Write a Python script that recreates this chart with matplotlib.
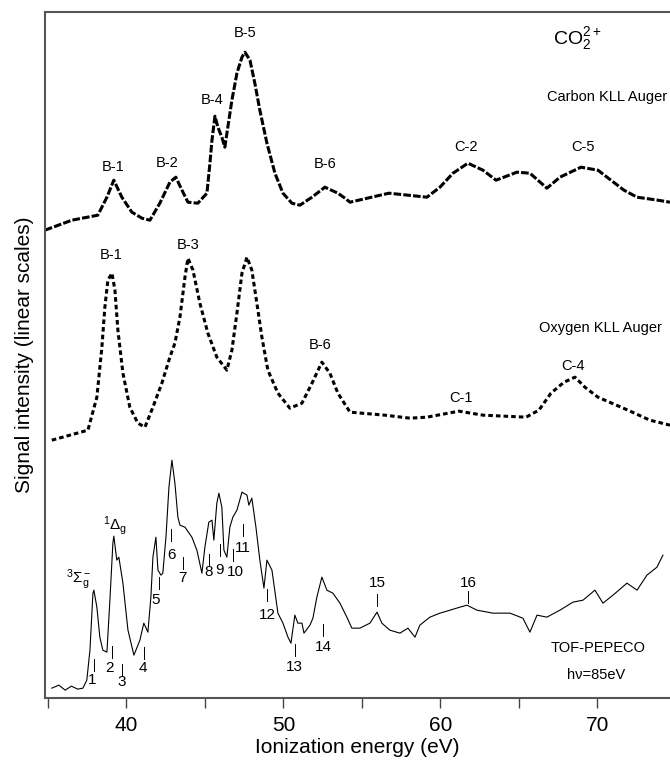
import numpy as np
import matplotlib
matplotlib.use("Agg")
import matplotlib.pyplot as plt

plt.rcParams['font.family'] = ['Liberation Sans', 'DejaVu Sans']
plt.rcParams['mathtext.fontset'] = 'custom'
plt.rcParams['mathtext.rm'] = 'Liberation Sans'
plt.rcParams['mathtext.it'] = 'Liberation Sans'

# Carbon KLL Auger (top trace)
carbon_e = [34.81, 36.53, 38.18, 38.76, 39.20, 39.71, 40.35, 40.99, 41.50, 42.13, 42.77,
            43.15, 43.54, 43.92, 44.55, 45.13, 45.32, 45.45, 45.64, 45.83, 46.08, 46.27,
            46.46, 46.72, 47.04, 47.36, 47.55, 47.87, 48.18, 48.50, 48.95, 49.46, 49.97,
            50.54, 51.05, 51.82, 52.64, 53.47, 53.92, 54.24, 56.72, 59.14, 59.97, 60.80,
            61.75, 62.71, 63.54, 64.87, 65.70, 66.78, 67.61, 68.95, 70.03, 70.61, 71.69,
            72.52, 73.85, 74.62]
carbon_i = [468, 478, 483, 501, 518, 501, 486, 480, 478, 495, 516,
            521, 508, 496, 495, 505, 535, 558, 582, 571, 561, 551,
            571, 598, 625, 641, 646, 638, 615, 588, 555, 525, 505,
            495, 493, 501, 511, 505, 500, 496, 505, 501, 511, 525,
            535, 528, 518, 526, 525, 510, 521, 531, 528, 521, 508,
            501, 498, 496]

# Oxygen KLL Auger (middle trace)
oxygen_e = [35.25, 37.55, 38.12, 38.44, 38.63, 38.82, 39.08, 39.27, 39.46, 39.78, 40.22,
            40.73, 41.18, 41.69, 42.26, 42.77, 43.09, 43.41, 43.73, 43.92, 44.24, 44.68,
            45.19, 45.76, 46.40, 46.72, 47.04, 47.36, 47.68, 47.99, 48.31, 48.63, 49.01,
            49.65, 50.41, 51.18, 51.82, 52.45, 52.96, 53.47, 54.24, 56.46, 58.06, 59.14,
            61.18, 62.71, 65.45, 66.27, 67.04, 67.87, 68.57, 69.20, 70.03, 71.94, 73.34,
            74.62]
oxygen_i = [258, 268, 301, 351, 391, 418, 425, 408, 368, 325, 291,
            275, 271, 291, 315, 341, 355, 381, 421, 440, 428, 395,
            365, 341, 328, 348, 385, 425, 441, 428, 395, 361, 328,
            305, 290, 295, 315, 336, 325, 305, 286, 283, 280, 281,
            287, 283, 281, 288, 305, 316, 321, 311, 301, 288, 278,
            273]

# TOF-PEPECO (bottom trace)
pepeco_e = [35.25, 35.7, 36.1, 36.5, 36.9, 37.23, 37.48, 37.68, 37.87, 37.93, 38.12, 38.31,
            38.50, 38.76, 38.95, 39.14, 39.20, 39.39, 39.52, 39.78, 40.10, 40.48, 40.86,
            41.11, 41.37, 41.56, 41.69, 41.88, 42.01, 42.20, 42.32, 42.52, 42.71, 42.90,
            43.09, 43.28, 43.41, 43.73, 44.17, 44.49, 44.81, 45.00, 45.25, 45.45, 45.57,
            45.76, 45.89, 46.08, 46.21, 46.40, 46.59, 46.78, 47.04, 47.36, 47.68, 47.80,
            47.99, 48.25, 48.50, 48.76, 48.95, 49.27, 49.65, 49.97, 50.29, 50.48, 50.73,
            50.92, 51.18, 51.31, 51.69, 51.88, 52.13, 52.45, 52.77, 53.15, 53.60, 54.04,
            54.36, 54.87, 55.51, 55.96, 56.27, 56.78, 57.42, 57.93, 58.38, 58.69, 59.33,
            59.97, 60.61, 61.24, 61.69, 62.32, 63.34, 64.43, 65.25, 65.70, 66.15, 66.78,
            67.61, 68.44, 69.08, 69.84, 70.35, 70.99, 71.88, 72.52, 73.15, 73.79, 74.17]
pepeco_i = [10, 13, 8, 12, 9, 10, 18, 48, 105, 108, 91, 61,
            48, 46, 98, 155, 162, 138, 141, 115, 68, 43, 58,
            75, 66, 101, 141, 161, 128, 123, 125, 161, 211, 238,
            215, 181, 173, 171, 161, 148, 125, 151, 176, 178, 158,
            195, 205, 191, 148, 141, 171, 181, 188, 206, 203, 193,
            200, 171, 138, 110, 138, 128, 85, 75, 61, 55, 83,
            75, 75, 65, 73, 80, 101, 121, 108, 105, 95, 81,
            70, 70, 75, 86, 75, 68, 65, 70, 61, 73, 81,
            85, 88, 91, 93, 88, 85, 85, 80, 66, 83, 81,
            88, 96, 98, 108, 95, 103, 115, 108, 123, 131, 143]

carbon_labels = ["B-1", "B-2", "B-4", "B-5", "B-6", "C-2", "C-5"]
carbon_lab_e = [39.14, 42.58, 45.45, 47.55, 52.64, 61.62, 69.08]
carbon_lab_i = [531, 535, 598, 665, 534, 551, 551]

oxygen_labels = ["B-1", "B-3", "B-6", "C-1", "C-4"]
oxygen_lab_e = [39.01, 43.92, 52.32, 61.31, 68.44]
oxygen_lab_i = [443, 453, 353, 300, 332]

state_labels = [str(n) for n in range(1, 17)]
state_tick_e = [37.93, 39.08, 39.71, 41.11, 42.07, 42.83, 43.60, 45.25, 45.96, 46.78,
                47.42, 48.95, 50.73, 52.52, 55.96, 61.75]
state_tick_i = [33, 46, 28, 45, 115, 163, 135, 138, 148, 143, 168, 103, 48, 68, 98, 101]
state_lab_e = [37.80, 38.95, 39.71, 41.05, 41.88, 42.90, 43.60, 45.25, 45.96, 46.97,
               47.42, 48.95, 50.67, 52.52, 55.96, 61.75]
state_lab_i = [18, 30, 16, 30, 98, 143, 120, 126, 128, 126, 150, 83, 31, 51, 115, 115]

fig = plt.figure(figsize=(6.7, 7.63), dpi=100)
ax = fig.add_axes([0.067, 0.085, 0.933, 0.899])

ax.plot(carbon_e, carbon_i, color='black', lw=2.2, linestyle=(0, (2.5, 0.7)))
ax.plot(oxygen_e, oxygen_i, color='black', lw=2.2, linestyle=(0, (1.5, 1.0)))
ax.plot(pepeco_e, pepeco_i, color='black', lw=0.8)

for t, x, y in zip(carbon_labels, carbon_lab_e, carbon_lab_i):
    ax.text(x, y, t, ha='center', va='center', fontsize=10.5)
for t, x, y in zip(oxygen_labels, oxygen_lab_e, oxygen_lab_i):
    ax.text(x, y, t, ha='center', va='center', fontsize=10.5)
for t, tx, ty, lx, ly in zip(state_labels, state_tick_e, state_tick_i, state_lab_e, state_lab_i):
    ax.plot([tx, tx], [ty - 6, ty + 6], color='black', lw=0.7)
    ax.text(lx, ly, t, ha='center', va='center', fontsize=11)

ax.text(36.97, 118, r'$^3\Sigma_g^-$', ha='center', va='center', fontsize=11)
ax.text(39.27, 173, r'$^1\Delta_g$', ha='center', va='center', fontsize=11)
ax.text(67.2, 660, r'CO$_2^{2+}$', ha='left', va='center', fontsize=14)
ax.text(74.43, 601, 'Carbon KLL Auger', ha='right', va='center', fontsize=10.5)
ax.text(74.11, 370, 'Oxygen KLL Auger', ha='right', va='center', fontsize=10.5)
ax.text(70.03, 50, 'TOF-PEPECO', ha='center', va='center', fontsize=10.5)
ax.text(69.9, 23, 'h\u03bd=85eV', ha='center', va='center', fontsize=10.5)

ax.set_xlim(34.81, 74.62)
ax.set_ylim(0, 686)
ax.set_xticks([35, 40, 45, 50, 55, 60, 65, 70])
ax.set_xticklabels(['', '40', '', '50', '', '60', '', '70'], fontsize=15)
ax.set_yticks([])
ax.tick_params(axis='x', direction='out', length=7, width=1, color='#444444', pad=6)
for side in ['left', 'top', 'bottom']:
    ax.spines[side].set_linewidth(1.5)
    ax.spines[side].set_color('#555555')
ax.spines['right'].set_visible(False)
ax.set_xlabel('Ionization energy (eV)', fontsize=15, labelpad=2)
ax.set_ylabel('Signal intensity (linear scales)', fontsize=15, labelpad=8)

fig.savefig('out.png', dpi=100)
